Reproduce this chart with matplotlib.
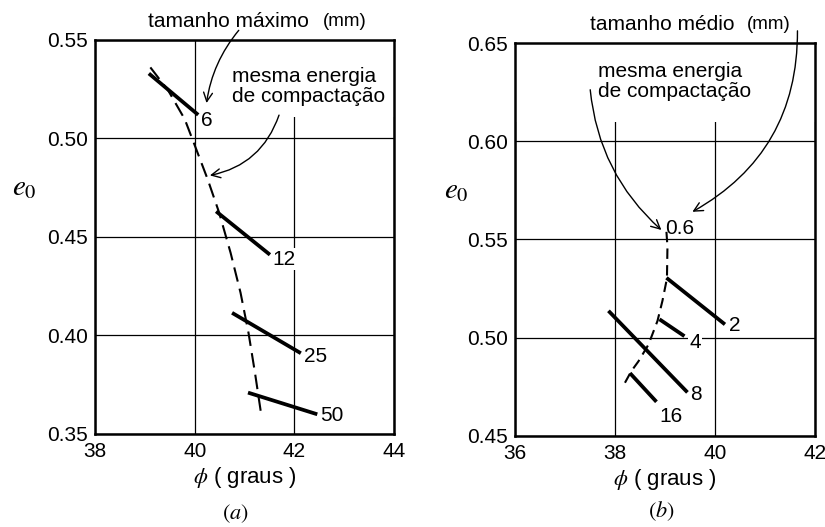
import numpy as np
import matplotlib.pyplot as plt
from matplotlib.patches import Rectangle

plt.rcParams['font.family'] = ['Liberation Sans', 'DejaVu Sans']
plt.rcParams['mathtext.fontset'] = 'stix'

# (a) tamanho maximo - e0 vs phi
a_sizes = ['6', '12', '25', '50']
a_phi = [[39.08, 40.07], [40.43, 41.51], [40.75, 42.13], [41.07, 42.46]]
a_e0 = [[0.533, 0.512], [0.463, 0.441], [0.4115, 0.391], [0.371, 0.360]]
a_lab_phi = [40.25, 41.80, 42.43, 42.75]
a_lab_e0 = [0.509, 0.4386, 0.3895, 0.3596]
a_dash_phi = [39.11, 39.47, 39.80, 40.03, 40.26, 40.49, 40.72, 40.92, 41.08, 41.21, 41.34]
a_dash_e0 = [0.5361, 0.5243, 0.5098, 0.4946, 0.4793, 0.4624, 0.442, 0.4217, 0.4013, 0.381, 0.359]

# (b) tamanho medio
b_sizes = ['2', '4', '8', '16']
b_phi = [[39.03, 40.20], [38.89, 39.39], [37.87, 39.45], [38.30, 38.83]]
b_e0 = [[0.5305, 0.5068], [0.5094, 0.5008], [0.5137, 0.4722], [0.482, 0.4674]]
b_lab_phi = [40.40, 39.60, 39.62, 39.12]
b_lab_e0 = [0.506, 0.4974, 0.4709, 0.4597]
b_dash_phi = [39.03, 39.05, 39.04, 38.95, 38.85, 38.67, 38.47, 38.33, 38.20]
b_dash_e0 = [0.5539, 0.5462, 0.5302, 0.5188, 0.5085, 0.4965, 0.488, 0.4831, 0.4771]


fig = plt.figure(figsize=(8.25, 5.27), dpi=100)
axa = fig.add_axes([0.1152, 0.1765, 0.3624, 0.7476])
axb = fig.add_axes([0.6242, 0.1727, 0.3636, 0.7457])

lab_box = dict(facecolor='white', edgecolor='none', pad=1)
arrow = dict(arrowstyle='->', color='black', lw=1, mutation_scale=16)


def setup(ax, xlim, ylim, xt, yt):
    ax.set_xlim(*xlim)
    ax.set_ylim(*ylim)
    ax.set_xticks(xt)
    ax.set_yticks(yt)
    ax.set_yticklabels(['%.2f' % v for v in yt])
    ax.tick_params(length=0, labelsize=15)
    ax.tick_params(axis='x', pad=6)
    ax.tick_params(axis='y', pad=5)
    ax.grid(True, color='black', lw=0.9)
    ax.set_axisbelow(True)
    for s in ax.spines.values():
        s.set_linewidth(1.8)
    ax.set_xlabel(r'$\phi$ ( graus )', fontsize=16, labelpad=3)


setup(axa, (38, 44), (0.35, 0.55), [38, 40, 42, 44], [0.35, 0.40, 0.45, 0.50, 0.55])
setup(axb, (36, 42), (0.45, 0.65), [36, 38, 40, 42], [0.45, 0.50, 0.55, 0.60, 0.65])

# panel a
axa.add_patch(Rectangle((0.45, 0.805), 0.55, 0.195, transform=axa.transAxes,
                        facecolor='white', edgecolor='none', zorder=1))
axa.plot(a_dash_phi, a_dash_e0, color='black', lw=1.5, dashes=(7, 3.5), zorder=2)
for xs, ys, s, lx, ly in zip(a_phi, a_e0, a_sizes, a_lab_phi, a_lab_e0):
    axa.plot(xs, ys, color='black', lw=2.7, solid_capstyle='butt', zorder=3)
    axa.text(lx, ly, s, fontsize=15, ha='center', va='center', bbox=lab_box, zorder=3)

axa.text(39.06, 0.5596, 'tamanho máximo', fontsize=15, ha='left', va='center', clip_on=False)
axa.text(42.58, 0.5596, '(mm)', fontsize=13.5, ha='left', va='center', clip_on=False)
axa.text(40.75, 0.5264, 'mesma energia\nde compactação', fontsize=15, ha='left',
         va='center', linespacing=1.1, zorder=4)
axa.annotate('', xy=(40.23, 0.5166), xytext=(40.92, 0.556), arrowprops=dict(arrow, connectionstyle='arc3,rad=0.15'),
             annotation_clip=False)
axa.annotate('', xy=(40.25, 0.481), xytext=(41.71, 0.5132), arrowprops=dict(arrow, connectionstyle='arc3,rad=-0.3'))
axa.text(-0.237, 0.627, r'$e_0$', transform=axa.transAxes, fontsize=21, ha='center', va='center')

# panel b
axb.add_patch(Rectangle((0, 0.8), 1, 0.2, transform=axb.transAxes,
                        facecolor='white', edgecolor='none', zorder=1))
axb.plot(b_dash_phi, b_dash_e0, color='black', lw=1.5, dashes=(5, 3), zorder=2)
for xs, ys, s, lx, ly in zip(b_phi, b_e0, b_sizes, b_lab_phi, b_lab_e0):
    axb.plot(xs, ys, color='black', lw=2.7, solid_capstyle='butt', zorder=3)
    axb.text(lx, ly, s, fontsize=15, ha='center', va='center', bbox=lab_box, zorder=3)
axb.text(39.3, 0.5558, '0.6', fontsize=15, ha='center', va='center', zorder=3)

axb.text(37.51, 0.6592, 'tamanho médio', fontsize=15, ha='left', va='center', clip_on=False)
axb.text(40.63, 0.6592, '(mm)', fontsize=13.5, ha='left', va='center', clip_on=False)
axb.text(37.67, 0.6304, 'mesma energia\nde compactação', fontsize=15, ha='left',
         va='center', linespacing=1.1, zorder=4)
axb.annotate('', xy=(39.5, 0.5634), xytext=(41.65, 0.6576), arrowprops=dict(arrow, connectionstyle='arc3,rad=-0.3'),
             annotation_clip=False)
axb.annotate('', xy=(38.97, 0.5539), xytext=(37.5, 0.6276), arrowprops=dict(arrow, connectionstyle='arc3,rad=0.2'))
axb.text(-0.197, 0.626, r'$e_0$', transform=axb.transAxes, fontsize=21, ha='center', va='center')

fig.text(0.285, 0.025, r'$(a)$', fontsize=16, ha='center', va='center')
fig.text(0.802, 0.03, r'$(b)$', fontsize=16, ha='center', va='center')

plt.savefig('out.png', dpi=100)
